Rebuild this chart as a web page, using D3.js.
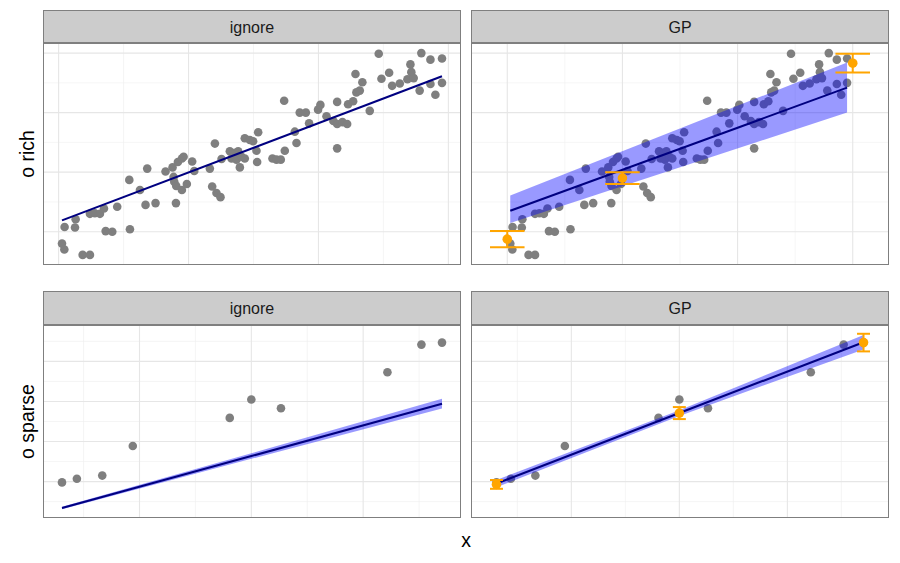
<!DOCTYPE html>
<html><head><meta charset="utf-8">
<script src="https://cdn.jsdelivr.net/npm/d3@7"></script>
<style>
body{margin:0;background:#fff}
svg{display:block;font-family:"Liberation Sans",Arial,Helvetica,sans-serif}
</style>
</head><body>
<svg id="chart" width="900" height="563"></svg>
<script>
// ---------------- data ----------------
const rowLabels = ["o rich", "o sparse"];
const colLabels = ["ignore", "GP"];
const xTitle = "x";

// rich observations
const richX = [
  0.026,0.044,0.046,0.126,0.131,0.185,0.241,0.241,0.279,0.318,
  0.349,0.362,0.413,0.451,0.549,0.544,0.626,0.669,0.682,0.746,
  0.823,0.877,0.885,0.903,0.890,0.905,0.918,0.949,0.962,0.949,
  0.987,1.028,1.044,1.164,1.182,1.215,1.246,1.203,1.254,1.318,
  1.356,1.382,1.331,1.369,1.408,1.395,1.433,1.433,1.472,1.497,
  1.536,1.523,1.528,1.646,1.677,1.710,1.741,1.736,1.818,1.831,
  1.856,1.903,1.928,1.997,2.015,2.062,2.115,2.144,2.144,2.144,
  2.185,2.221,2.228,2.267,2.292,2.318,2.285,2.338,2.395,2.464,
  2.485,2.544,2.567,2.626,2.685,2.708,2.715,2.733,2.779,2.792,
  2.862,2.862,2.900,2.951,2.951];
const richY = [
  -0.20,-0.30,0.08,0.07,0.21,-0.39,-0.39,0.30,0.31,0.30,
  0.39,0.01,0.00,0.42,0.04,0.87,0.70,0.45,1.06,0.48,
  1.01,1.08,0.92,0.48,0.84,0.77,1.17,1.23,1.26,0.70,
  0.80,1.18,1.02,1.06,0.76,0.65,0.58,1.48,1.22,1.35,
  1.32,1.35,1.23,1.21,1.26,1.08,1.23,1.57,1.54,1.52,
  1.67,1.36,1.17,1.23,1.21,1.21,1.36,2.20,1.68,1.49,
  2.00,2.00,1.82,2.05,2.13,1.94,1.86,2.18,1.81,1.40,
  1.84,1.81,2.14,2.19,2.34,2.37,2.65,2.51,2.03,2.99,
  2.57,2.67,2.45,2.49,2.56,2.81,2.68,2.58,2.37,3.00,
  2.89,2.48,2.30,2.91,2.50];

// sparse observations
const sparseX = [0.307,0.440,0.667,0.940,1.807,2.000,2.265,3.217,3.521,3.705];
const sparseY = [-0.02,0.07,0.15,0.89,1.59,2.05,1.83,2.73,3.42,3.47];

// fitted trends (x, fit, lower, upper)
const richIgnoreFitX = [0.026, 2.951];
const richIgnoreFit  = [0.19, 2.61];
const richGpFitX  = [0.026, 2.951];
const richGpFit   = [0.35, 2.42];
const richGpLower = [0.145, 2.00];
const richGpUpper = [0.61, 2.84];

const sparseIgnoreFitX  = [0.307, 2.000, 3.705];
const sparseIgnoreFit   = [-0.66, 0.638, 1.945];
const sparseIgnoreLower = [-0.69, 0.568, 1.825];
const sparseIgnoreUpper = [-0.63, 0.708, 2.065];

const sparseGpFitX  = [0.307, 2.000, 3.705];
const sparseGpFit   = [-0.05, 1.71, 3.48];
const sparseGpLower = [-0.14, 1.64, 3.30];
const sparseGpUpper = [0.04, 1.78, 3.66];

// GP estimates at anchor points (value +- error)
const richEstX   = [0, 1, 3];
const richEstY   = [-0.125, 0.90, 2.83];
const richEstErr = [0.135, 0.10, 0.157];
const richCapWidth = 0.3;

const sparseEstX   = [0.307, 2.000, 3.705];
const sparseEstY   = [-0.07, 1.71, 3.47];
const sparseEstErr = [0.11, 0.15, 0.22];
const sparseCapWidth = 0.12;

// grid breaks
const richXMajor = [0,1,2,3], richXMinor = [0.5,1.5,2.5];
const sparseXMajor = [1,2,3], sparseXMinor = [0.5,1.5,2.5,3.5];
const richYMajor = [0,1,2,3], richYMinor = [0.5,1.5,2.5];
const sparseYMajor = [0,1,2,3], sparseYMinor = [-0.5,0.5,1.5,2.5,3.5];

// ---------------- build ----------------
const zip = (xs, ys) => xs.map((x,i)=>({x, y: ys[i]}));
const richPts = zip(richX, richY), sparsePts = zip(sparseX, sparseY);
const band = (xs, f, lo, hi) => xs.map((x,i)=>({x, y:f[i], lo:lo[i], hi:hi[i]}));
const est = (xs, ys, es) => xs.map((x,i)=>({x, y:ys[i], lo:ys[i]-es[i], hi:ys[i]+es[i]}));

const panels = [
  {row:0,col:0, pts:richPts, fit:band(richIgnoreFitX, richIgnoreFit, richIgnoreFit, richIgnoreFit), ribbon:false,
   xMaj:richXMajor, xMin:richXMinor},
  {row:0,col:1, pts:richPts, fit:band(richGpFitX, richGpFit, richGpLower, richGpUpper), ribbon:true,
   est:est(richEstX, richEstY, richEstErr), cap:richCapWidth, xMaj:richXMajor, xMin:richXMinor},
  {row:1,col:0, pts:sparsePts, fit:band(sparseIgnoreFitX, sparseIgnoreFit, sparseIgnoreLower, sparseIgnoreUpper), ribbon:true,
   xMaj:sparseXMajor, xMin:sparseXMinor},
  {row:1,col:1, pts:sparsePts, fit:band(sparseGpFitX, sparseGpFit, sparseGpLower, sparseGpUpper), ribbon:true,
   est:est(sparseEstX, sparseEstY, sparseEstErr), cap:sparseCapWidth, xMaj:sparseXMajor, xMin:sparseXMinor}
];
const rowYGrid = [{maj:richYMajor, min:richYMinor},{maj:sparseYMajor, min:sparseYMinor}];

// layout
const colX = [43, 471], panelW = 418;
const rowTop = [43, 325], rowH = [222, 193];
const stripTop = [10, 291];

function expand(ext){ const d = ext[1]-ext[0]; return [ext[0]-0.05*d, ext[1]+0.05*d]; }

// x domains per panel
panels.forEach(p=>{
  let xs = p.pts.map(d=>d.x).concat(p.fit.map(d=>d.x));
  if (p.est) p.est.forEach(e=>{ xs.push(e.x - p.cap/2, e.x + p.cap/2); });
  p.xDom = expand(d3.extent(xs));
});
// y domains per row (shared)
const yDoms = [0,1].map(r=>{
  let ys = [];
  panels.filter(p=>p.row===r).forEach(p=>{
    p.pts.forEach(d=>ys.push(d.y));
    p.fit.forEach(d=>{ ys.push(d.y); if (p.ribbon){ ys.push(d.lo, d.hi);} });
    if (p.est) p.est.forEach(e=>ys.push(e.lo, e.hi));
  });
  return expand(d3.extent(ys));
});

const svg = d3.select("#chart");
const borderCol = "#7f7f7f";

panels.forEach(p=>{
  const x0 = colX[p.col], y0 = rowTop[p.row], h = rowH[p.row];
  const xs = d3.scaleLinear().domain(p.xDom).range([x0, x0+panelW]);
  const ys = d3.scaleLinear().domain(yDoms[p.row]).range([y0+h, y0]);
  const g = svg.append("g");
  const clipId = "clip"+p.row+p.col;
  svg.append("clipPath").attr("id", clipId).append("rect")
    .attr("x", x0).attr("y", y0).attr("width", panelW).attr("height", h);
  g.attr("clip-path", `url(#${clipId})`);
  g.append("rect").attr("x",x0).attr("y",y0).attr("width",panelW).attr("height",h).attr("fill","#fff");

  const yg = rowYGrid[p.row];
  // minor grid
  g.selectAll(null).data(p.xMin).enter().append("line")
    .attr("x1",d=>xs(d)).attr("x2",d=>xs(d)).attr("y1",y0).attr("y2",y0+h)
    .attr("stroke","#efefef").attr("stroke-width",0.6);
  g.selectAll(null).data(yg.min).enter().append("line")
    .attr("y1",d=>ys(d)).attr("y2",d=>ys(d)).attr("x1",x0).attr("x2",x0+panelW)
    .attr("stroke","#efefef").attr("stroke-width",0.6);
  // major grid
  g.selectAll(null).data(p.xMaj).enter().append("line")
    .attr("x1",d=>xs(d)).attr("x2",d=>xs(d)).attr("y1",y0).attr("y2",y0+h)
    .attr("stroke","#e6e6e6").attr("stroke-width",1.1);
  g.selectAll(null).data(yg.maj).enter().append("line")
    .attr("y1",d=>ys(d)).attr("y2",d=>ys(d)).attr("x1",x0).attr("x2",x0+panelW)
    .attr("stroke","#e6e6e6").attr("stroke-width",1.1);

  // points
  g.selectAll(null).data(p.pts).enter().append("circle")
    .attr("cx",d=>xs(d.x)).attr("cy",d=>ys(d.y)).attr("r",4.3).attr("fill","#7f7f7f");

  // ribbon
  if (p.ribbon){
    g.append("path").datum(p.fit)
      .attr("d", d3.area().x(d=>xs(d.x)).y0(d=>ys(d.lo)).y1(d=>ys(d.hi)))
      .attr("fill","#0000ff").attr("fill-opacity",0.4);
  }
  // fit line
  g.append("path").datum(p.fit)
    .attr("d", d3.line().x(d=>xs(d.x)).y(d=>ys(d.y)))
    .attr("fill","none").attr("stroke","#000080").attr("stroke-width",2.1);

  // estimates
  if (p.est){
    const og = g.append("g").attr("stroke","#ffa500").attr("stroke-width",2);
    p.est.forEach(e=>{
      og.append("line").attr("x1",xs(e.x)).attr("x2",xs(e.x)).attr("y1",ys(e.lo)).attr("y2",ys(e.hi));
      og.append("line").attr("x1",xs(e.x-p.cap/2)).attr("x2",xs(e.x+p.cap/2)).attr("y1",ys(e.lo)).attr("y2",ys(e.lo));
      og.append("line").attr("x1",xs(e.x-p.cap/2)).attr("x2",xs(e.x+p.cap/2)).attr("y1",ys(e.hi)).attr("y2",ys(e.hi));
    });
    g.selectAll(null).data(p.est).enter().append("circle")
      .attr("cx",d=>xs(d.x)).attr("cy",d=>ys(d.y)).attr("r",4.8).attr("fill","#ffa500");
  }

  // border
  svg.append("rect").attr("x",x0+0.5).attr("y",y0+0.5).attr("width",panelW-1).attr("height",h-1)
    .attr("fill","none").attr("stroke",borderCol).attr("stroke-width",1);

  // strip
  const sy = stripTop[p.row], sh = y0 - sy;
  svg.append("rect").attr("x",x0+0.5).attr("y",sy+0.5).attr("width",panelW-1).attr("height",sh-1)
    .attr("fill","#cccccc").attr("stroke",borderCol).attr("stroke-width",1);
  svg.append("text").attr("x",x0+panelW/2).attr("y",sy+sh/2+6)
    .attr("text-anchor","middle").attr("font-size",16).attr("fill","#1a1a1a")
    .text(colLabels[p.col]);
});

// row titles
rowLabels.forEach((t,r)=>{
  const cy = rowTop[r] + rowH[r]/2;
  svg.append("text").attr("transform",`translate(34,${cy}) rotate(-90)`)
    .attr("text-anchor","middle").attr("font-size",19.5).attr("fill","#000").text(t);
});
svg.append("text").attr("x",466).attr("y",547).attr("text-anchor","middle")
  .attr("font-size",19.5).attr("fill","#000").text(xTitle);
</script>
</body></html>
